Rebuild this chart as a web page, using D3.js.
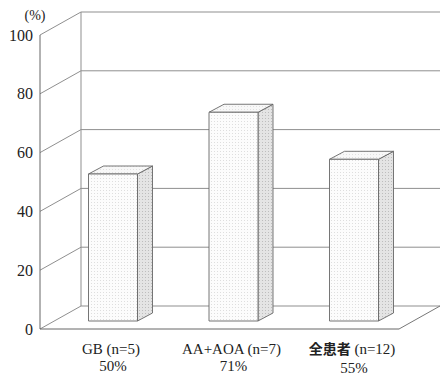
<!DOCTYPE html>
<html><head><meta charset="utf-8">
<script src="https://cdn.jsdelivr.net/npm/d3@7"></script>
<style>body{margin:0;background:#fff}</style>
</head><body>
<svg id="c" width="440" height="379"></svg>
<script>
const categories = ["GB (n=5)", "AA+AOA (n=7)", "全患者 (n=12)"];
const percentLabels = ["50%", "71%", "55%"];
const values = [50, 71, 55];
const yTicks = [0, 20, 40, 60, 80, 100];

const svg = d3.select("#c");
const W = 440;
const front = {x0: 40, y0: 329};
const depth = {dx: 41, dy: -23};
const y = d3.scaleLinear().domain([0, 100]).range([329, 35]);
const x = d3.scalePoint().domain(categories).range([113, 354]);
const barW = 49;
const barFront = {dx: 0, dy: -8};
const barDepth = {dx: 15, dy: -8};
const SERIF = "Liberation Serif";

const defs = svg.append("defs");
function dots(id, bg, dot) {
  const p = defs.append("pattern").attr("id", id).attr("width", 3).attr("height", 3)
    .attr("patternUnits", "userSpaceOnUse");
  p.append("rect").attr("width", 3).attr("height", 3).attr("fill", bg);
  p.append("rect").attr("x", 1).attr("y", 1).attr("width", 1).attr("height", 1).attr("fill", dot);
}
dots("pf", "#fcfcfc", "#dedede");
dots("ps", "#e4e4e4", "#bdbdbd");
dots("pt", "#f8f8f8", "#e0e0e0");

const g = svg.append("g");
const grid = "#8f8f8f";
const xRight = 399;

yTicks.forEach(t => {
  const yy = y(t);
  g.append("line").attr("x1", front.x0 + depth.dx).attr("x2", W + 2)
    .attr("y1", yy + depth.dy).attr("y2", yy + depth.dy).attr("stroke", grid).attr("stroke-width", 1);
  g.append("line").attr("x1", front.x0).attr("y1", yy)
    .attr("x2", front.x0 + depth.dx).attr("y2", yy + depth.dy).attr("stroke", grid);
});
g.append("line").attr("x1", front.x0).attr("x2", front.x0).attr("y1", y(100)).attr("y2", y(0)).attr("stroke", "#666");
g.append("line").attr("x1", front.x0 + depth.dx).attr("x2", front.x0 + depth.dx)
  .attr("y1", y(100) + depth.dy).attr("y2", y(0) + depth.dy).attr("stroke", grid);
g.append("line").attr("x1", front.x0).attr("x2", xRight).attr("y1", y(0)).attr("y2", y(0)).attr("stroke", "#666");
g.append("line").attr("x1", xRight).attr("y1", y(0)).attr("x2", xRight + depth.dx).attr("y2", y(0) + depth.dy).attr("stroke", "#777");

categories.forEach((c, i) => {
  const v = values[i];
  const xl = x(c) - barW / 2 + barFront.dx;
  const xr = xl + barW;
  const yb = y(0) + barFront.dy;
  const yt = y(v) + barFront.dy;
  const dx = barDepth.dx, dy = barDepth.dy;
  const bg = g.append("g").attr("stroke", "#666").attr("stroke-width", 0.9).attr("stroke-linejoin", "round");
  bg.append("polygon").attr("points", [[xr, yt], [xr + dx, yt + dy], [xr + dx, yb + dy], [xr, yb]].join(" "))
    .attr("fill", "url(#ps)");
  bg.append("polygon").attr("points", [[xl, yt], [xl + dx, yt + dy], [xr + dx, yt + dy], [xr, yt]].join(" "))
    .attr("fill", "url(#pt)");
  bg.append("rect").attr("x", xl).attr("y", yt).attr("width", barW).attr("height", yb - yt)
    .attr("fill", "url(#pf)");
});

yTicks.forEach(t => {
  svg.append("text").style("font-family", SERIF).style("font-size", "16px")
    .attr("x", 33).attr("y", y(t)).attr("dy", "0.35em")
    .attr("text-anchor", "end").attr("fill", "#222").text(t);
});
svg.append("text").style("font-family", SERIF).style("font-size", "14px")
  .attr("x", 35).attr("y", 15).attr("dy", "0.35em").attr("text-anchor", "middle")
  .attr("fill", "#222").text("(%)");

categories.forEach((c, i) => {
  const t = svg.append("text").style("font-family", SERIF).style("font-size", "15px")
    .attr("x", x(c) - 2).attr("y", 354).attr("text-anchor", "middle").attr("fill", "#222");
  if (c.startsWith("全患者")) {
    t.append("tspan").style("font-family", "Noto Sans CJK JP").style("font-weight", "bold").style("font-size", "14px").text("全患者");
    t.append("tspan").text(c.slice(3));
  } else {
    t.text(c);
  }
  svg.append("text").style("font-family", SERIF).style("font-size", "15px")
    .attr("x", x(c)).attr("y", 371 + (i === 2 ? 2 : 0)).attr("text-anchor", "middle")
    .attr("fill", "#222").text(percentLabels[i]);
});
</script>
</body></html>
